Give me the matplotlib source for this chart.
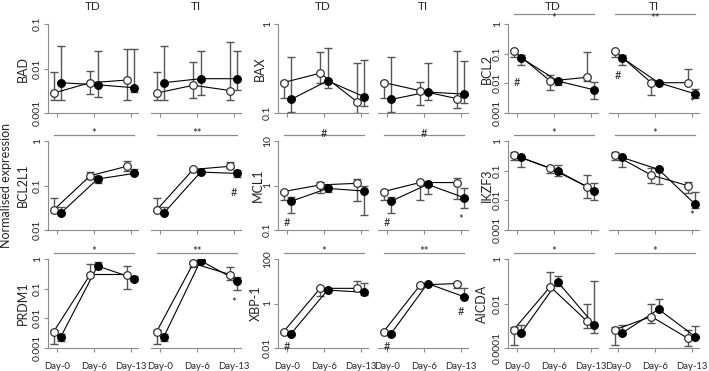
import numpy as np
import matplotlib
matplotlib.use("Agg")
import matplotlib.pyplot as plt

plt.rcParams["font.family"] = ["Lato", "DejaVu Sans"]

days = ["Day-0", "Day-6", "Day-13"]
genes = ["BAD", "BAX", "BCL2", "BCL2L1", "MCL1", "IKZF3", "PRDM1", "XBP-1", "AICDA"]

# each row: value, lower end of error bar, upper end of error bar (Day-0, Day-6, Day-13)
bad_td_open = [[0.0028, 0.002, 0.0085], [0.0048, 0.0027, 0.0088], [0.0055, 0.002, 0.027]]
bad_td_filled = [[0.0048, 0.002, 0.032], [0.0043, 0.0023, 0.025], [0.0037, 0.003, 0.027]]
bad_ti_open = [[0.0028, 0.002, 0.0085], [0.0042, 0.0022, 0.0138], [0.0032, 0.002, 0.04]]
bad_ti_filled = [[0.0048, 0.002, 0.032], [0.0059, 0.0026, 0.025], [0.0059, 0.0033, 0.025]]

bax_td_open = [[0.22, 0.146, 0.23], [0.28, 0.215, 0.48], [0.134, 0.1, 0.36]]
bax_td_filled = [[0.142, 0.103, 0.43], [0.23, 0.19, 0.54], [0.152, 0.12, 0.39]]
bax_ti_open = [[0.22, 0.146, 0.23], [0.178, 0.123, 0.225], [0.145, 0.113, 0.5]]
bax_ti_filled = [[0.142, 0.103, 0.43], [0.172, 0.14, 0.36], [0.163, 0.128, 0.38]]

bcl2_td_open = [[0.126, 0.08, 0.13], [0.012, 0.006, 0.019], [0.016, 0.012, 0.117]]
bcl2_td_filled = [[0.073, 0.042, 0.09], [0.012, 0.0088, 0.014], [0.006, 0.003, 0.0114]]
bcl2_ti_open = [[0.126, 0.08, 0.13], [0.0105, 0.004, 0.012], [0.0105, 0.01, 0.03]]
bcl2_ti_filled = [[0.073, 0.042, 0.09], [0.0105, 0.0095, 0.0115], [0.0044, 0.0031, 0.0063]]

bcl2l1_td_open = [[0.028, 0.027, 0.053], [0.166, 0.138, 0.2], [0.27, 0.215, 0.36]]
bcl2l1_td_filled = [[0.024, 0.023, 0.033], [0.14, 0.112, 0.165], [0.187, 0.18, 0.24]]
bcl2l1_ti_open = [[0.028, 0.027, 0.053], [0.23, 0.21, 0.25], [0.27, 0.25, 0.34]]
bcl2l1_ti_filled = [[0.024, 0.023, 0.033], [0.2, 0.19, 0.21], [0.187, 0.155, 0.22]]

mcl1_td_open = [[0.73, 0.47, 0.75], [1.03, 0.69, 1.22], [1.12, 0.46, 1.38]]
mcl1_td_filled = [[0.44, 0.245, 0.54], [0.86, 0.7, 1.0], [0.75, 0.22, 1.0]]
mcl1_ti_open = [[0.73, 0.47, 0.75], [1.17, 0.47, 1.25], [1.16, 0.5, 1.44]]
mcl1_ti_filled = [[0.44, 0.245, 0.54], [1.06, 0.64, 1.2], [0.53, 0.31, 0.86]]

ikzf3_td_open = [[0.34, 0.23, 0.42], [0.12, 0.085, 0.14], [0.029, 0.0117, 0.07]]
ikzf3_td_filled = [[0.28, 0.135, 0.3], [0.098, 0.066, 0.16], [0.021, 0.0103, 0.039]]
ikzf3_ti_open = [[0.34, 0.23, 0.42], [0.071, 0.037, 0.126], [0.031, 0.018, 0.042]]
ikzf3_ti_filled = [[0.28, 0.135, 0.3], [0.11, 0.035, 0.125], [0.0073, 0.0056, 0.0195]]

prdm1_td_open = [[0.0035, 0.0014, 0.004], [0.3, 0.3, 0.68], [0.3, 0.098, 0.58]]
prdm1_td_filled = [[0.0024, 0.0017, 0.003], [0.58, 0.45, 0.79], [0.22, 0.18, 0.27]]
prdm1_ti_open = [[0.0035, 0.0014, 0.004], [0.71, 0.55, 0.85], [0.3, 0.2, 0.55]]
prdm1_ti_filled = [[0.0024, 0.0017, 0.003], [0.88, 0.85, 0.92], [0.186, 0.09, 0.25]]

xbp1_td_open = [[0.054, 0.05, 0.058], [4.8, 2.2, 5.2], [4.8, 4.6, 10.5]]
xbp1_td_filled = [[0.043, 0.04, 0.046], [4.0, 3.7, 4.3], [3.2, 2.4, 8.0]]
xbp1_ti_open = [[0.054, 0.05, 0.058], [6.8, 6.3, 7.3], [7.9, 4.8, 9.5]]
xbp1_ti_filled = [[0.043, 0.04, 0.046], [7.9, 7.5, 8.3], [2.0, 1.9, 4.8]]

aicda_td_open = [[0.00065, 0.000135, 0.0009], [0.057, 0.05, 0.25], [0.0016, 0.00077, 0.01]]
aicda_td_filled = [[0.00046, 0.00044, 0.0011], [0.095, 0.06, 0.17], [0.0011, 0.00046, 0.106]]
aicda_ti_open = [[0.00065, 0.000135, 0.0009], [0.0026, 0.0013, 0.01], [0.00027, 0.00012, 0.00065]]
aicda_ti_filled = [[0.00046, 0.00044, 0.0011], [0.0055, 0.005, 0.0155], [0.00032, 0.0003, 0.001]]

series = {
    "BAD": (bad_td_open, bad_td_filled, bad_ti_open, bad_ti_filled),
    "BAX": (bax_td_open, bax_td_filled, bax_ti_open, bax_ti_filled),
    "BCL2": (bcl2_td_open, bcl2_td_filled, bcl2_ti_open, bcl2_ti_filled),
    "BCL2L1": (bcl2l1_td_open, bcl2l1_td_filled, bcl2l1_ti_open, bcl2l1_ti_filled),
    "MCL1": (mcl1_td_open, mcl1_td_filled, mcl1_ti_open, mcl1_ti_filled),
    "IKZF3": (ikzf3_td_open, ikzf3_td_filled, ikzf3_ti_open, ikzf3_ti_filled),
    "PRDM1": (prdm1_td_open, prdm1_td_filled, prdm1_ti_open, prdm1_ti_filled),
    "XBP-1": (xbp1_td_open, xbp1_td_filled, xbp1_ti_open, xbp1_ti_filled),
    "AICDA": (aicda_td_open, aicda_td_filled, aicda_ti_open, aicda_ti_filled),
}

y_ticks = {
    "BAD": ["0.001", "0.01", "0.1"],
    "BAX": ["0.1", "1"],
    "BCL2": ["0.001", "0.01", "0.1", "1"],
    "BCL2L1": ["0.01", "0.1", "1"],
    "MCL1": ["0.1", "1", "10"],
    "IKZF3": ["0.001", "0.01", "0.1", "1"],
    "PRDM1": ["0.001", "0.01", "0.1", "1"],
    "XBP-1": ["0.01", "1", "100"],
    "AICDA": ["0.0001", "0.01", "1"],
}

# significance over the whole time course (TD, TI)
sig_labels = {
    "BCL2": ("*", "**"), "BCL2L1": ("*", "**"), "MCL1": ("#", "#"),
    "IKZF3": ("*", "*"), "PRDM1": ("*", "**"), "XBP-1": ("*", "**"), "AICDA": ("*", "*"),
}

# point marks: gene, condition, day index, value, symbol
marks = [
    ("BCL2", "TD", 0, 0.011, "#"), ("BCL2", "TI", 0, 0.018, "#"), ("BCL2", "TI", 2, 0.0023, "*"),
    ("BCL2L1", "TI", 2, 0.071, "#"),
    ("MCL1", "TD", 0, 0.145, "#"), ("MCL1", "TI", 0, 0.145, "#"), ("MCL1", "TI", 2, 0.17, "*"),
    ("IKZF3", "TI", 2, 0.0032, "*"),
    ("PRDM1", "TI", 2, 0.035, "*"),
    ("XBP-1", "TD", 0, 0.012, "#"), ("XBP-1", "TI", 0, 0.012, "#"), ("XBP-1", "TI", 2, 0.46, "#"),
]

W, H = 709, 371
fig = plt.figure(figsize=(W / 100, H / 100), dpi=100)

col_left = [48, 151, 278, 378, 508, 609]
row_top = [24, 141, 259]
pw, ph = 90, 89
# distance in px from the axis to the centre of the gene name
label_off = {"BAD": 25, "BAX": 18, "BCL2": 21, "BCL2L1": 25, "MCL1": 20,
             "IKZF3": 21, "PRDM1": 25, "XBP-1": 22, "AICDA": 26}
grey = "#8c8c8c"
txt = "#262626"
x = np.arange(3)


def draw_series(ax, data, dx, filled):
    d = np.array(data)
    v, lo, hi = d[:, 0], d[:, 1], d[:, 2]
    ax.errorbar(x + dx, v, yerr=[v - lo, hi - v], fmt="none", ecolor="#555555",
                elinewidth=1.0, capsize=3, capthick=1.0, zorder=2)
    ax.plot(x + dx, v, "-", color="black", linewidth=0.8, zorder=3)
    ax.plot(x + dx, v, "o", markersize=5.5, markeredgewidth=0.9,
            markeredgecolor="black" if filled else "#333333",
            markerfacecolor="black" if filled else "white", zorder=4)


axes = {}
for gi, gene in enumerate(genes):
    r, c = gi // 3, gi % 3
    td_open, td_filled, ti_open, ti_filled = series[gene]
    labels = y_ticks[gene]
    vals = [float(s) for s in labels]
    for k, cond in enumerate(["TD", "TI"]):
        left = col_left[2 * c + k]
        ax = fig.add_axes([left / W, 1 - (row_top[r] + ph) / H, pw / W, ph / H])
        axes[(gene, cond)] = ax
        ax.set_yscale("log")
        ax.set_ylim(vals[0], vals[-1])
        ax.set_xlim(-0.25, 2.2)
        ax.minorticks_off()
        op, fi = (td_open, td_filled) if cond == "TD" else (ti_open, ti_filled)
        draw_series(ax, op, -0.1, False)
        draw_series(ax, fi, 0.1, True)

        for s in ["top", "right"]:
            ax.spines[s].set_visible(False)
        ax.spines["bottom"].set_color(grey)
        ax.spines["left"].set_color(grey)
        ax.set_xticks(x)
        ax.tick_params(axis="both", colors=grey, length=3, width=0.8, labelcolor=txt,
                       labelsize=8, pad=1.5)
        if r == 2:
            ax.set_xticklabels(days, fontsize=6.8)
            ax.tick_params(axis="x", pad=7)
        else:
            ax.set_xticklabels([])
        if cond == "TD":
            ax.set_yticks(vals)
            ax.set_yticklabels(labels, rotation=90, va="center", fontsize=7.5)
            ax.set_ylabel(gene, fontsize=9, color=txt, va="center")
            ax.yaxis.set_label_coords(-label_off[gene] / pw, 0.5)
        else:
            ax.spines["left"].set_visible(False)
            ax.set_yticks([])
        if r == 0:
            fig.text((left + pw / 2) / W, 1 - 0.5 / H, cond, ha="center", va="top",
                     fontsize=8.5, color=txt)

        if gene in sig_labels:
            yb = 1.11 if r == 0 else 1.07
            ax.plot([-0.1, 2.1], [yb, yb], color=grey, linewidth=0.9,
                    transform=ax.get_xaxis_transform(), clip_on=False)
            if r == 0:
                ax.text(1.0, yb + 0.01, sig_labels[gene][k], ha="center", va="top",
                        fontsize=8, transform=ax.get_xaxis_transform(), color=txt)
            else:
                ax.text(1.0, yb + 0.015, sig_labels[gene][k], ha="center", va="center",
                        fontsize=8, transform=ax.get_xaxis_transform(), color=txt)

for gene, cond, di, val, sym in marks:
    ax = axes[(gene, cond)]
    ax.text(di, val, sym, ha="center", va="center", fontsize=8, color=txt, zorder=5)

fig.text(6 / W, 1 - 185 / H, "Normalised expression", rotation=90, ha="center", va="center",
         fontsize=9, color=txt)

fig.savefig("out.png", dpi=100)
